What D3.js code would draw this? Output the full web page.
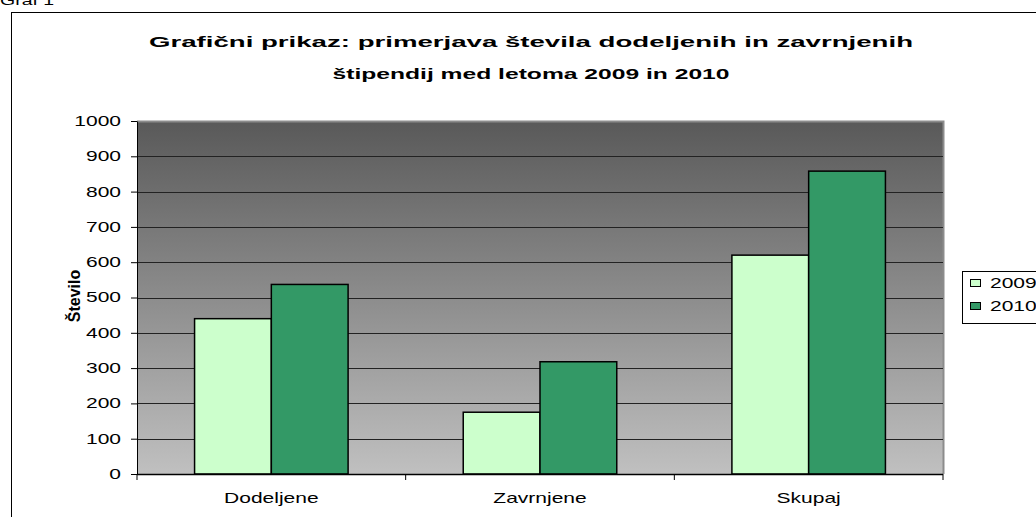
<!DOCTYPE html>
<html>
<head>
<meta charset="utf-8">
<script src="https://cdn.jsdelivr.net/npm/d3@7"></script>
<style>
	body { margin: 0; background: #fff; }
	svg { display: block; font-family: "Liberation Sans", Arial, sans-serif; }
</style>
</head>
<body>
<svg id="chart" width="1036" height="517"></svg>
<script>
const categories = ["Dodeljene", "Zavrnjene", "Skupaj"];
const years = ["2009", "2010"];
const values2009 = [440, 175, 620];
const values2010 = [537, 318, 858];
const yTicks = [0, 100, 200, 300, 400, 500, 600, 700, 800, 900, 1000];
const yearColors = ["#ccffcc", "#339966"];

const svg = d3.select("#chart");

// plot area (pixels)
const plotLeft = 137, plotRight = 943, plotTop = 121, plotBottom = 474;
// the original picture is stretched sideways, so the text is too
const sx = 1.5;

// place a text at (x, y) and widen it horizontally
function wideText(parent, x, y, size) {
	return parent.append("text")
		.attr("transform", `translate(${x},${y}) scale(${sx},1)`)
		.style("font-size", size + "px");
}

// small caption above the frame, cut off by the page edge
wideText(svg, 0, 5, 13).text("Graf 1");

// outer chart frame (runs off the right and bottom edges)
svg.append("rect")
	.attr("x", 11.5).attr("y", 12.5)
	.attr("width", 1040).attr("height", 520)
	.attr("fill", "#fff")
	.attr("stroke", "#000");

// title
const titleLines = [
	{text: "Grafični prikaz: primerjava števila dodeljenih in zavrnjenih", y: 47, w: 764},
	{text: "štipendij med letoma 2009 in 2010", y: 79, w: 397}
];
svg.append("g")
	.selectAll("text")
	.data(titleLines)
	.enter().append("text")
		.attr("x", 531).attr("y", d => d.y)
		.attr("text-anchor", "middle")
		.attr("textLength", d => d.w)
		.attr("lengthAdjust", "spacingAndGlyphs")
		.style("font-size", "15.5px").style("font-weight", "bold")
		.text(d => d.text);

const x0 = d3.scaleBand()
	.domain(categories)
	.range([plotLeft, plotRight])
	.paddingInner(0).paddingOuter(0);

const barW = x0.bandwidth() / 3.5;   // gap width 150%
const x1 = d3.scaleBand()
	.domain(years)
	.range([0, barW * 2]);

const y = d3.scaleLinear()
	.domain([0, 1000])
	.range([plotBottom, plotTop]);

// gradient background
const defs = svg.append("defs");
const grad = defs.append("linearGradient")
	.attr("id", "bg-grad")
	.attr("x1", "0%").attr("y1", "0%")
	.attr("x2", "0%").attr("y2", "100%");
grad.append("stop").attr("offset", "0%").attr("stop-color", "#595959");
grad.append("stop").attr("offset", "100%").attr("stop-color", "#c0c0c0");

svg.append("rect")
	.attr("x", plotLeft).attr("y", plotTop)
	.attr("width", plotRight - plotLeft).attr("height", plotBottom - plotTop)
	.attr("fill", "url(#bg-grad)");

// plot area border (light gray on top/right)
svg.append("path")
	.attr("d", `M${plotLeft},${plotTop + 0.5}H${plotRight + 0.5}V${plotBottom}`)
	.attr("fill", "none")
	.attr("stroke", "#8c8c8c")
	.attr("stroke-width", 2);

// gridlines
svg.append("g")
	.selectAll("line")
	.data(yTicks.filter(d => d > 0 && d < 1000))
	.enter().append("line")
		.attr("x1", plotLeft).attr("x2", plotRight)
		.attr("y1", d => Math.round(y(d)) + 0.5)
		.attr("y2", d => Math.round(y(d)) + 0.5)
		.attr("stroke", "#222")
		.attr("stroke-width", 1.2);

// bars
const barData = [];
categories.forEach((c, i) => {
	barData.push({cat: c, year: "2009", value: values2009[i]});
	barData.push({cat: c, year: "2010", value: values2010[i]});
});

svg.append("g")
	.selectAll("rect")
	.data(barData)
	.enter().append("rect")
		.attr("x", d => x0(d.cat) + barW * 0.75 + x1(d.year))
		.attr("y", d => y(d.value))
		.attr("width", x1.bandwidth())
		.attr("height", d => plotBottom - y(d.value))
		.attr("fill", d => yearColors[years.indexOf(d.year)])
		.attr("stroke", "#000")
		.attr("stroke-width", 1.5);

// y axis
const yAxis = d3.axisLeft(y)
	.tickValues(yTicks)
	.tickFormat(d3.format("d"))
	.tickSize(6)
	.tickSizeOuter(0);

const yG = svg.append("g")
	.attr("transform", `translate(${plotLeft},0)`)
	.call(yAxis);
yG.selectAll("text")
	.style("font-size", "14px")
	.style("font-family", "Liberation Sans, Arial, sans-serif")
	.attr("fill", "#000")
	.attr("x", -16 / sx)
	.attr("transform", `scale(${sx},1)`);
yG.selectAll("line, path").attr("stroke", "#000");

// x axis: ticks at the category boundaries
svg.append("line")
	.attr("x1", plotLeft).attr("x2", plotRight)
	.attr("y1", plotBottom + 0.5).attr("y2", plotBottom + 0.5)
	.attr("stroke", "#000").attr("stroke-width", 1.5);

svg.append("g")
	.selectAll("line")
	.data(categories.map(c => x0(c)).concat([plotRight]))
	.enter().append("line")
		.attr("x1", d => d).attr("x2", d => d)
		.attr("y1", plotBottom).attr("y2", plotBottom + 6)
		.attr("stroke", "#000");

const xLabels = svg.append("g");
categories.forEach(c => {
	wideText(xLabels, x0(c) + x0.bandwidth() / 2, 503, 14)
		.attr("text-anchor", "middle")
		.text(c);
});

// y axis label
svg.append("text")
	.attr("transform", "translate(80,296) rotate(-90)")
	.attr("text-anchor", "middle")
	.style("font-size", "16px")
	.style("font-weight", "bold")
	.text("Število");

// legend
const legend = svg.append("g").attr("transform", "translate(962,271)");
legend.append("rect")
	.attr("x", 0.5).attr("y", 0.5)
	.attr("width", 100).attr("height", 52)
	.attr("fill", "#fff")
	.attr("stroke", "#000");

years.forEach((yr, i) => {
	const rowY = 8 + i * 23;
	legend.append("rect")
		.attr("x", 8.5).attr("y", rowY + 0.5)
		.attr("width", 10).attr("height", 7)
		.attr("fill", yearColors[i])
		.attr("stroke", "#000");
	wideText(legend, 28, rowY + 9, 14).text(yr);
});
</script>
</body>
</html>
